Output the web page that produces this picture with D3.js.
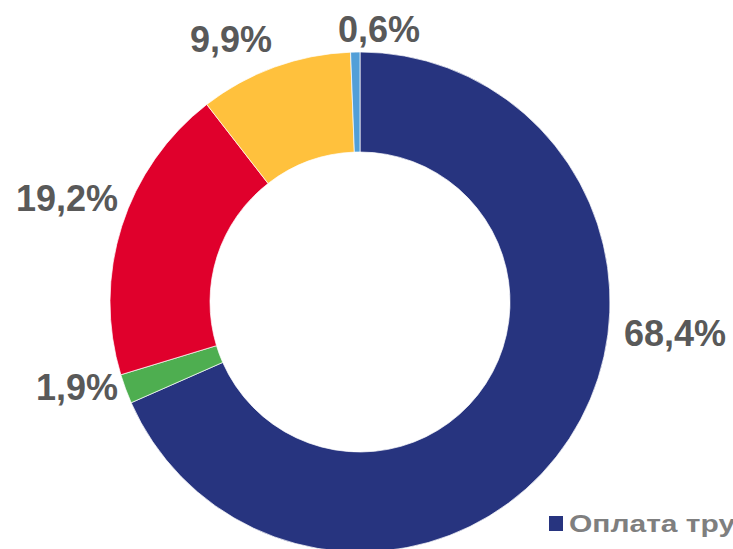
<!DOCTYPE html>
<html lang="ru">
<head>
<meta charset="UTF-8">
<title>Donut</title>
<script src="https://cdn.jsdelivr.net/npm/d3@7"></script>
<style>
    body { margin: 0; background: #fff; overflow: hidden; }
    .lbl { font-family: "Liberation Sans", Arial, sans-serif; font-weight: bold; font-size: 36px; fill: #595959; }
    .leg { font-family: "Liberation Sans", Arial, sans-serif; font-weight: bold; font-size: 25px; fill: #7f7f7f; }
</style>
</head>
<body>
<script>
// data, clockwise from 12 o'clock
const categories = ["Оплата труда", "Категория 2", "Категория 3", "Категория 4", "Категория 5"];
const values = [68.4, 1.9, 19.2, 9.9, 0.6];
const labels = ["68,4%", "1,9%", "19,2%", "9,9%", "0,6%"];
const colors = ["#27347f", "#4eae50", "#e0002c", "#ffc13d", "#529fd8"];

const w = 733, h = 549;
const cx = 360, cy = 302;
const outerR = 250, innerR = 150;

// where the label text sits (center x, baseline y)
const labelPos = [[675, 346], [77, 400], [67, 211], [231, 52], [379, 42]];

const svg = d3.select("body").append("svg")
    .attr("width", w)
    .attr("height", h);

const pie = d3.pie().sort(null).value(d => d);
const arc = d3.arc().innerRadius(innerR).outerRadius(outerR);

const g = svg.append("g").attr("transform", "translate(" + cx + "," + cy + ")");

g.selectAll("path")
    .data(pie(values))
    .enter()
    .append("path")
    .attr("d", arc)
    .attr("fill", (d, i) => colors[i])
    .attr("stroke", "#fff")
    .attr("stroke-width", 0.7);

svg.selectAll("text.lbl")
    .data(labels)
    .enter()
    .append("text")
    .attr("class", "lbl")
    .attr("x", (d, i) => labelPos[i][0])
    .attr("y", (d, i) => labelPos[i][1])
    .attr("text-anchor", "middle")
    .text(d => d);

// legend (only the first entry fits in view, as in the original)
const leg = svg.append("g").attr("transform", "translate(549, 516)");
leg.append("rect")
    .attr("width", 14)
    .attr("height", 15)
    .attr("fill", colors[0]);
leg.append("text")
    .attr("class", "leg")
    .attr("transform", "translate(20,16) scale(1.2,0.96)")
    .text(categories[0]);
</script>
</body>
</html>
